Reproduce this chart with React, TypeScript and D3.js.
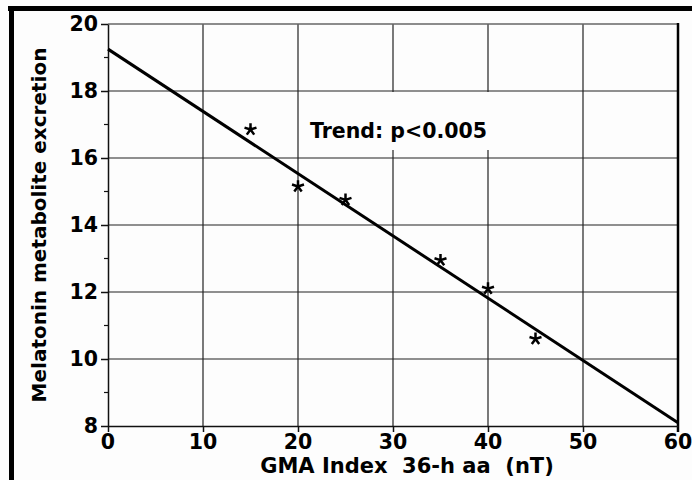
import React, { useEffect, useRef } from "react";
import * as d3 from "d3";

// valores
const gmaIndex = [15, 20, 25, 35, 40, 45];
const melatonina = [16.85, 15.15, 14.75, 12.95, 12.1, 10.6];
const trendX = [0, 60];
const trendY = [19.25, 8.1];
const xTicks = [0, 10, 20, 30, 40, 50, 60];
const yTicks = [8, 10, 12, 14, 16, 18, 20];
const yMinorTicks = [9, 11, 13, 15, 17, 19];

const largura = 692;
const altura = 480;
const margem = { top: 24, right: 14, bottom: 54, left: 108 };
const fonte = "'DejaVu Sans', sans-serif";

// asterisco de 5 braços
const symbolStar5: d3.SymbolType = {
    draw(context, size) {
        const r = Math.sqrt(size) * 0.6;
        for (let i = 0; i < 5; i++) {
            const a = -Math.PI / 2 + (i * 2 * Math.PI) / 5;
            context.moveTo(0, 0);
            context.lineTo(r * Math.cos(a), r * Math.sin(a));
        }
    },
};

export default function App() {
    const ref = useRef<SVGSVGElement>(null);

    useEffect(() => {
        document.body.style.margin = "0";
        const svg = d3.select(ref.current);
        svg.selectAll("*").remove();

        const x = d3.scaleLinear().domain([0, 60]).range([margem.left, largura - margem.right]);
        const y = d3.scaleLinear().domain([8, 20]).range([altura - margem.bottom, margem.top]);

        svg.append("rect").attr("width", largura).attr("height", altura).attr("fill", "#fdfdfd");

        // moldura preta
        svg.append("rect").attr("x", 8).attr("y", 6).attr("width", largura - 8).attr("height", 5).attr("fill", "#000");
        svg.append("rect").attr("x", 9).attr("y", 6).attr("width", 5).attr("height", altura - 6).attr("fill", "#000");

        // grade
        const grade = svg.append("g").attr("stroke", "#222").attr("stroke-width", 1.2);
        grade.selectAll(".gx")
            .data(xTicks.slice(1, -1))
            .join("line")
            .attr("x1", d => x(d)).attr("x2", d => x(d))
            .attr("y1", y(20)).attr("y2", y(8));
        grade.selectAll(".gy")
            .data(yTicks.slice(1, -1))
            .join("line")
            .attr("x1", x(0)).attr("x2", x(60))
            .attr("y1", d => y(d)).attr("y2", d => y(d));

        // borda superior cinza e direita grossa
        svg.append("line").attr("x1", x(0)).attr("x2", x(60)).attr("y1", y(20)).attr("y2", y(20))
            .attr("stroke", "#666").attr("stroke-width", 1.5);
        svg.append("line").attr("x1", x(60)).attr("x2", x(60)).attr("y1", y(20) - 1).attr("y2", y(8) + 6)
            .attr("stroke", "#000").attr("stroke-width", 2.5);

        // eixos
        svg.append("g")
            .attr("transform", `translate(0, ${y(8)})`)
            .call(d3.axisBottom(x).tickValues(xTicks.slice(0, -1)).tickSize(6).tickSizeOuter(0).tickFormat(() => ""))
            .call(g => g.selectAll("line, path").attr("stroke", "#111").attr("stroke-width", 1.5));
        svg.append("g")
            .attr("transform", `translate(${x(0)}, 0)`)
            .call(d3.axisLeft(y).tickValues(yTicks).tickSize(7).tickSizeOuter(0).tickFormat(() => ""))
            .call(g => g.selectAll("line, path").attr("stroke", "#111").attr("stroke-width", 1.5));
        svg.append("g")
            .selectAll("line")
            .data(yMinorTicks)
            .join("line")
            .attr("x1", x(0) - 4).attr("x2", x(0))
            .attr("y1", d => y(d)).attr("y2", d => y(d))
            .attr("stroke", "#111").attr("stroke-width", 1.2);

        // rótulos dos ticks
        svg.append("g")
            .selectAll("text")
            .data(yTicks)
            .join("text")
            .attr("x", 98)
            .attr("y", d => y(d))
            .attr("dy", "0.36em")
            .attr("text-anchor", "end")
            .style("font", `bold 20.5px ${fonte}`)
            .text(d => d);
        svg.append("g")
            .selectAll("text")
            .data(xTicks)
            .join("text")
            .attr("x", d => x(d))
            .attr("y", 449)
            .attr("text-anchor", "middle")
            .style("font", `bold 20.5px ${fonte}`)
            .text(d => d);

        // títulos
        svg.append("text")
            .attr("x", 407)
            .attr("y", 473)
            .attr("text-anchor", "middle")
            .attr("xml:space", "preserve")
            .style("white-space", "pre")
            .style("font", `bold 21px ${fonte}`)
            .text("GMA Index  36-h aa  (nT)");
        svg.append("text")
            .attr("transform", `translate(46, 225) rotate(-90)`)
            .attr("text-anchor", "middle")
            .style("font", `bold 20px ${fonte}`)
            .text("Melatonin metabolite excretion");

        // caixa da tendência
        svg.append("rect").attr("x", 302).attr("y", 92).attr("width", 194).attr("height", 58).attr("fill", "#fdfdfd");
        svg.append("text")
            .attr("x", 310)
            .attr("y", 138)
            .style("font", `bold 20.5px ${fonte}`)
            .text("Trend: p<0.005");

        // linha de tendência
        svg.append("path")
            .datum(trendX.map((v, i) => [v, trendY[i]] as [number, number]))
            .attr("d", d3.line<[number, number]>().x(d => x(d[0])).y(d => y(d[1])))
            .attr("fill", "none")
            .attr("stroke", "#000")
            .attr("stroke-width", 3);

        // pontos
        svg.append("g")
            .selectAll("path")
            .data(gmaIndex.map((v, i) => ({ x: v, y: melatonina[i] })))
            .join("path")
            .attr("transform", d => `translate(${x(d.x)}, ${y(d.y)})`)
            .attr("d", d3.symbol(symbolStar5, 110)())
            .attr("fill", "none")
            .attr("stroke", "#000")
            .attr("stroke-width", 2.5);
    }, []);

    return <svg ref={ref} width={largura} height={altura}
                style={{ position: "absolute", left: 0, top: 0, display: "block" }}/>;
}
